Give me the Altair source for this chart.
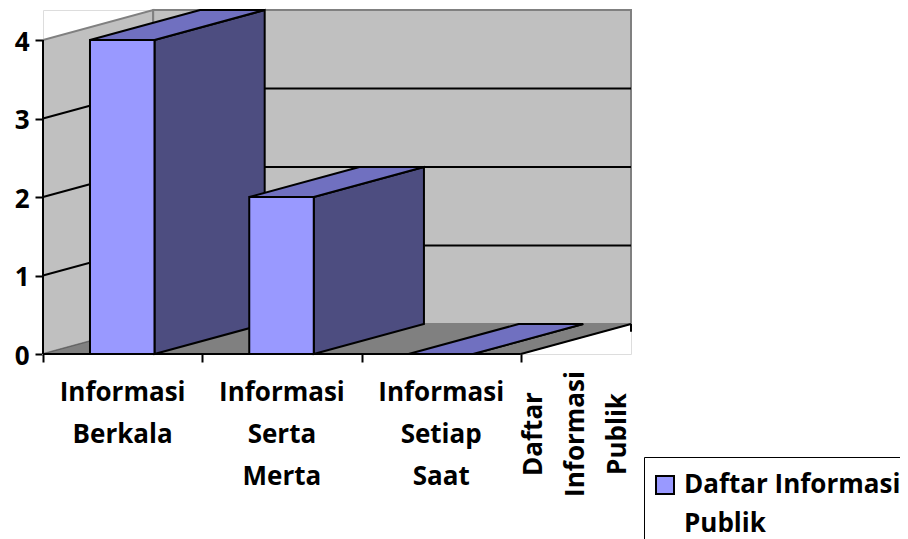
import altair as alt
import pandas as pd

categories = ["Informasi|Berkala", "Informasi|Serta|Merta", "Informasi|Setiap|Saat"]
values = [4, 2, 0]
series_name = "Daftar Informasi Publik"
y_ticks = [0, 1, 2, 3, 4]
x_ticks = [0, 1, 2, 3]

FONT = "Open Sans"
FS = 26
DX = 110 / 159      # depth of the 3D box in category units
DY = 30 / 78.5      # depth of the 3D box in value units
BAR0 = 0.295
BAR1 = 0.70
N = len(categories)
YMAX = max(y_ticks)

xs = alt.Scale(domain=[0, N + DX], range=[0, 588], nice=False, zero=False)
ys = alt.Scale(domain=[0, YMAX + DY], range=[344, 0], nice=False, zero=False)

x_axis = alt.Axis(
    values=x_ticks, labels=False, domain=False, grid=False, ticks=True,
    tickSize=8, tickWidth=2, tickColor="black", title=None)
y_axis = alt.Axis(
    values=y_ticks, domain=False, grid=False, tickSize=8, tickWidth=2, tickColor="black",
    labelFont=FONT, labelFontSize=FS, labelFontWeight="bold", labelColor="black",
    labelPadding=6, labelOffset=2, title=None, format="d")


def X(f="x"):
    return alt.X(f + ":Q", scale=xs, axis=x_axis)


def Y(f="y"):
    return alt.Y(f + ":Q", scale=ys, axis=y_axis)


def vpoly(rows, fill, stroke, sw=2):
    return alt.Chart(pd.DataFrame(rows)).mark_area(fill=fill, stroke=stroke, strokeWidth=sw, opacity=1).encode(
        x=X("x"), y=Y("y0"), y2=alt.Y2("y1"), detail="id:N")


def hpoly(rows, fill, stroke, sw=2):
    return alt.Chart(pd.DataFrame(rows)).mark_area(orient="horizontal", fill=fill, stroke=stroke, strokeWidth=sw, opacity=1).encode(
        y=Y("y"), x=X("x0"), x2=alt.X2("x1"), detail="id:N")


def rules(rows, color, sw=2):
    return alt.Chart(pd.DataFrame(rows)).mark_rule(color=color, strokeWidth=sw).encode(
        x=X("x0"), x2=alt.X2("x1"), y=Y("y0"), y2=alt.Y2("y1"))


# Walls and floor
left_wall = vpoly([
    {"id": "w", "x": 0, "y0": 0, "y1": YMAX},
    {"id": "w", "x": DX, "y0": DY, "y1": YMAX + DY},
], "#c0c0c0", "#808080", 2)
back_wall = alt.Chart(pd.DataFrame([{"x0": DX, "x1": N + DX, "y0": DY, "y1": YMAX + DY}])).mark_rect(
    fill="#c0c0c0", stroke="#808080", strokeWidth=2).encode(
    x=X("x0"), x2=alt.X2("x1"), y=Y("y0"), y2=alt.Y2("y1"))
floor = hpoly([
    {"id": "f", "y": 0, "x0": 0, "x1": N},
    {"id": "f", "y": DY, "x0": DX, "x1": N + DX},
], "#808080", "#808080", 1)

# Gridlines
grid_rows = []
for v in y_ticks[1:-1]:
    grid_rows.append({"x0": 0, "x1": DX, "y0": v, "y1": v + DY})
    grid_rows.append({"x0": DX, "x1": N + DX, "y0": v + DY, "y1": v + DY})
grid = rules(grid_rows, "black", 2)
grid0 = rules([{"x0": 0, "x1": DX, "y0": 0, "y1": DY}], "#606060", 1)

# Bars
side_rows, top_rows, front_rows = [], [], []
for i, v in enumerate(values):
    a, b = i + BAR0, i + BAR1
    side_rows += [
        {"id": i, "x": b, "y0": 0, "y1": v},
        {"id": i, "x": b + DX, "y0": DY, "y1": v + DY},
    ]
    top_rows += [
        {"id": i, "y": v, "x0": a, "x1": b},
        {"id": i, "y": v + DY, "x0": a + DX, "x1": b + DX},
    ]
    front_rows.append({"x0": a, "x1": b, "y0": 0, "y1": v, "series": series_name})

sides = vpoly(side_rows, "#4d4d80", "black", 2)
tops = hpoly(top_rows, "#7070c0", "black", 2)
fronts = alt.Chart(pd.DataFrame(front_rows)).mark_rect(stroke="black", strokeWidth=2).encode(
    x=X("x0"), x2=alt.X2("x1"), y=Y("y0"), y2=alt.Y2("y1"),
    fill=alt.Fill("series:N", scale=alt.Scale(domain=[series_name], range=["#9999ff"]),
                  legend=alt.Legend(
                      title=None, orient="none", legendX=601, legendY=447,
                      strokeColor="black", padding=15,
                      symbolType="square", symbolSize=324, symbolOffset=-7,
                      symbolStrokeColor="black", symbolStrokeWidth=2, symbolOpacity=1,
                      labelFont=FONT, labelFontSize=FS, labelFontWeight="bold", labelColor="black",
                      labelLimit=400, labelOffset=6,
                      labelExpr="split(replace(datum.label,' Publik','|Publik'),'|')")))

outer = rules([
    {"x0": 0, "x1": N, "y0": 0, "y1": 0},
    {"x0": 0, "x1": 0, "y0": 0, "y1": YMAX},
    {"x0": N, "x1": N + DX, "y0": 0, "y1": DY},
    {"x0": N + DX, "x1": N + DX, "y0": DY, "y1": DY - 0.1},
], "black", 2)

# Category and depth labels
cat_df = pd.DataFrame({"x": [i + 0.5 for i in range(N)], "y": [0] * N, "t": categories})
cat_labels = alt.Chart(cat_df).mark_text(
    font=FONT, fontSize=FS, fontWeight="bold", color="black", baseline="top", lineHeight=42, dy=26,
    lineBreak="|").encode(x=X("x"), y=Y("y"), text="t:N")
depth_df = pd.DataFrame({"x": [N + DX / 2], "y": [0], "t": ["Daftar|Informasi|Publik"]})
depth_label = alt.Chart(depth_df).mark_text(
    font=FONT, fontSize=FS, fontWeight="bold", color="black", baseline="middle", align="center",
    angle=270, lineHeight=42, lineBreak="|", dx=-80, dy=-42).encode(x=X("x"), y=Y("y"), text="t:N")

chart = alt.layer(
    left_wall, back_wall, floor, grid0, grid, sides, tops, fronts, outer, cat_labels, depth_label
).properties(
    width=588, height=344,
    autosize=alt.AutoSizeParams(type="none"),
    padding={"left": 35, "top": 2, "right": 269, "bottom": 185},
    background="white",
).configure_view(stroke=None).configure(style={"guide-label": {"lineHeight": 39}})

chart.save("out.html", embed_options={"renderer": "svg", "actions": False})
